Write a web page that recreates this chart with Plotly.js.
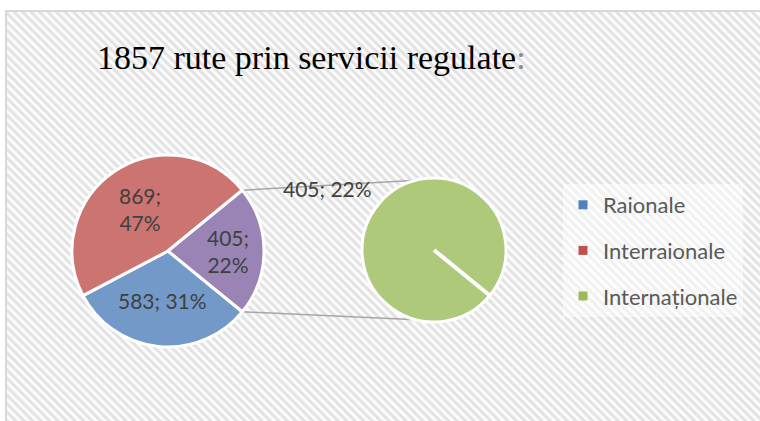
<!DOCTYPE html>
<html>
<head>
<meta charset="utf-8">
<script src="https://cdn.plot.ly/plotly-3.0.1.min.js"></script>
<style>html,body{margin:0;padding:0;background:#fff;}#chart{width:760px;height:421px;}</style>
</head>
<body>
<div id="chart"></div>
<script>
// ---- data ----
const categories = ['Raionale', 'Interraionale', 'Internaționale'];
const values = [583, 869, 405];
const colors = ['#7399c9', '#cc7471', '#afc97b'];
const legendColors = ['#4f81bd', '#c0504d', '#9bbb59'];
const otherColor = '#9a84b6';
const titleText = '1857 rute prin servicii regulate';

// ---- geometry / styling ----
const W = 760, H = 421;
const mainC = {x: 168, y: 251, r: 96};
const subC = {x: 434, y: 250, r: 72};
const labelR = [0.52, 0.53, 0.62];     // label distance (fraction of radius) per main slice
const labelSep = ['; ', ';<br>', ';<br>'];
function dom(c) {
  return {x: [(c.x - c.r) / W, (c.x + c.r) / W], y: [(H - c.y - c.r) / H, (H - c.y + c.r) / H]};
}
function px(x) { return x / W; }
function py(y) { return 1 - y / H; }
const total = values.reduce((a, b) => a + b, 0);
const halfDeg = 180 * values[2] / total;
const rot = 90 + halfDeg;
const pct = values.map(v => Math.round(v / total * 100) + '%');
const labelFont = {family: 'Lato, Carlito, sans-serif', size: 21, color: '#404040'};

const mainPie = {
  type: 'pie', sort: false, direction: 'clockwise', rotation: rot,
  labels: [categories[0], categories[1], 'Altele'],
  values: values,
  marker: {colors: [colors[0], colors[1], otherColor], line: {color: '#ffffff', width: 3}},
  textinfo: 'none',
  domain: dom(mainC), showlegend: false, hoverinfo: 'label+value+percent'
};
const subPie = {
  type: 'pie', sort: false, direction: 'clockwise', rotation: rot,
  labels: [categories[2]], values: [values[2]],
  textinfo: 'none',
  marker: {colors: [colors[2]], line: {color: '#ffffff', width: 3}},
  domain: dom(subC), showlegend: false
};
const legendTraces = categories.map((c, i) => ({
  type: 'scatter', mode: 'markers', x: [null], y: [null], name: c,
  legendgroup: 'g' + i,
  marker: {symbol: 'square', size: 9, color: legendColors[i]}
}));

// data labels placed at slice mid-angles
const annotations = [];
let cur = -halfDeg;
values.forEach((v, i) => {
  const span = 360 * v / total;
  const mid = (cur - span / 2) * Math.PI / 180;
  cur -= span;
  const rr = mainC.r * labelR[i];
  annotations.push({
    xref: 'paper', yref: 'paper', showarrow: false,
    x: px(mainC.x + rr * Math.cos(mid)), y: py(mainC.y - rr * Math.sin(mid)),
    xanchor: 'center', yanchor: 'middle',
    text: v + labelSep[i] + pct[i], font: labelFont, align: 'center'
  });
});
const subLabAng = 150 * Math.PI / 180;
annotations.push({
  xref: 'paper', yref: 'paper', showarrow: false,
  x: px(subC.x + 1.7 * subC.r * Math.cos(subLabAng)), y: py(subC.y - 1.7 * subC.r * Math.sin(subLabAng)),
  xanchor: 'center', yanchor: 'middle',
  text: values[2] + '; ' + pct[2], font: labelFont
});

// connector lines and radial separator (from pie geometry)
const hr = halfDeg * Math.PI / 180;
const subAng = 104 * Math.PI / 180;
const shapes = [
  {type: 'line', xref: 'paper', yref: 'paper', layer: 'below',
   x0: px(mainC.x + mainC.r * Math.cos(hr)), y0: py(mainC.y - mainC.r * Math.sin(hr)),
   x1: px(subC.x + subC.r * Math.cos(subAng)), y1: py(subC.y - subC.r * Math.sin(subAng)),
   line: {color: '#a6a6a6', width: 1.5}},
  {type: 'line', xref: 'paper', yref: 'paper', layer: 'below',
   x0: px(mainC.x + mainC.r * Math.cos(hr)), y0: py(mainC.y + mainC.r * Math.sin(hr)),
   x1: px(subC.x + subC.r * Math.cos(subAng)), y1: py(subC.y + subC.r * Math.sin(subAng)),
   line: {color: '#a6a6a6', width: 1.5}},
  {type: 'line', xref: 'paper', yref: 'paper', layer: 'above',
   x0: px(subC.x), y0: py(subC.y),
   x1: px(subC.x + subC.r * Math.cos(hr)), y1: py(subC.y + subC.r * Math.sin(hr)),
   line: {color: '#ffffff', width: 4}}
];

const svg = '<svg xmlns="http://www.w3.org/2000/svg" width="760" height="421">' +
  '<defs><pattern id="h" width="6" height="6" patternUnits="userSpaceOnUse" patternTransform="rotate(-45)">' +
  '<rect width="6" height="6" fill="#fbfbfb"/><rect width="3" height="6" fill="#e3e3e3"/></pattern></defs>' +
  '<rect width="760" height="421" fill="#ffffff"/>' +
  '<rect x="6" y="11" width="760" height="420" fill="url(#h)" stroke="#d9d9d9" stroke-width="2"/></svg>';
const bgSrc = 'data:image/svg+xml;charset=utf-8,' + encodeURIComponent(svg);

const layout = {
  width: W, height: H,
  margin: {l: 0, r: 0, t: 0, b: 0},
  paper_bgcolor: '#ffffff', plot_bgcolor: 'rgba(0,0,0,0)',
  title: {
    text: titleText + '<span style="color:#8c8c8c">:</span>',
    font: {family: '"Liberation Serif", "DejaVu Serif", serif', size: 34, color: '#000000'},
    x: 97 / W, xref: 'paper', xanchor: 'left',
    y: 1 - 57 / H, yref: 'paper', yanchor: 'middle'
  },
  xaxis: {visible: false}, yaxis: {visible: false},
  showlegend: true,
  legend: {
    x: 563 / W, y: 1 - 184 / H, xanchor: 'left', yanchor: 'top',
    bgcolor: 'rgba(255,255,255,0.5)', borderwidth: 0,
    font: {family: 'Lato, Carlito, sans-serif', size: 22, color: '#595959'},
    tracegroupgap: 14, itemclick: false, itemdoubleclick: false
  },
  annotations: annotations,
  shapes: shapes,
  images: [{source: bgSrc, xref: 'paper', yref: 'paper', x: 0, y: 1, sizex: 1, sizey: 1,
            xanchor: 'left', yanchor: 'top', sizing: 'stretch', layer: 'below'}]
};

Plotly.newPlot('chart', [mainPie, subPie].concat(legendTraces), layout, {displayModeBar: false, staticPlot: true});
</script>
</body>
</html>
